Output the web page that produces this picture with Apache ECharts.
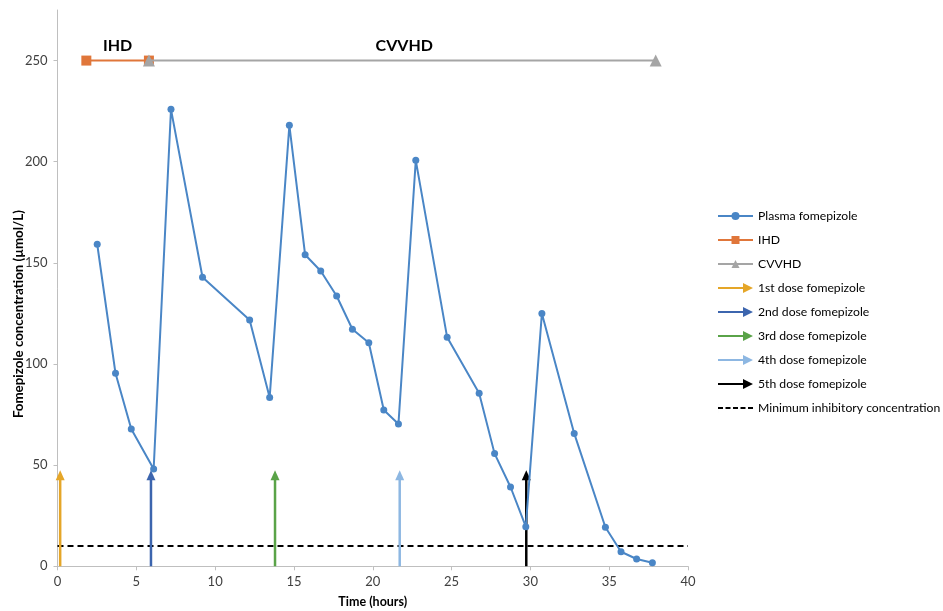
<!DOCTYPE html>
<html>
<head>
<meta charset="utf-8">
<script src="https://cdn.jsdelivr.net/npm/echarts@6/dist/echarts.min.js"></script>
<style>
html,body{margin:0;padding:0;background:#fff;}
#chart{width:943px;height:611px;}
</style>
</head>
<body>
<div id="chart"></div>
<script>
// ---- data ----
var plasmaTime = [2.52, 3.68, 4.68, 6.1, 7.2, 9.2, 12.19, 13.46, 14.71, 15.71, 16.7, 17.71, 18.71, 19.75, 20.7, 21.63, 22.73, 24.72, 26.75, 27.73, 28.74, 29.71, 30.73, 32.78, 34.76, 35.75, 36.74, 37.74];
var plasmaConc = [159.2, 95.4, 67.9, 48.1, 225.9, 142.9, 121.8, 83.5, 218.0, 154.0, 146.0, 133.6, 117.2, 110.5, 77.3, 70.3, 200.7, 113.2, 85.5, 55.7, 39.2, 19.6, 125.0, 65.7, 19.3, 7.2, 3.6, 1.8];
var ihdTime = [1.83, 5.8];
var cvvhdTime = [5.8, 37.95];
var therapyLevel = 250;
var doseNames = ['1st dose fomepizole', '2nd dose fomepizole', '3rd dose fomepizole', '4th dose fomepizole', '5th dose fomepizole'];
var doseTime = [0.17, 5.93, 13.8, 21.71, 29.74];
var doseArrowTop = 45;
var micLevel = 10;
var micRange = [0, 40];
var yTicks = [0, 50, 100, 150, 200, 250];
var xTicks = [0, 5, 10, 15, 20, 25, 30, 35, 40];

var doseColors = ['#E5A628', '#3C65AE', '#5AA348', '#8DB7E2', '#000000'];
var FONT = 'Lato, "Open Sans", sans-serif';
var arrowIcon = 'path://M0,4 L25,4 L25,0 L35,5 L25,10 L25,6 L0,6 Z';
var dashIcon = 'path://M0,4 h5 v2 h-5 Z M7.5,4 h5 v2 h-5 Z M15,4 h5 v2 h-5 Z M22.5,4 h5 v2 h-5 Z M30,4 h5 v2 h-5 Z M0,0 h0.01 v10 h-0.01 Z';

function zip(a, b) { return a.map(function (v, i) { return [v, b[i]]; }); }

var series = [];
series.push({
  name: 'Plasma fomepizole', type: 'line', data: zip(plasmaTime, plasmaConc),
  symbol: 'circle', symbolSize: 7, z: 5,
  itemStyle: { color: '#4A86C6' }, lineStyle: { color: '#4A86C6', width: 2 }
});
series.push({
  name: 'IHD', type: 'line', data: ihdTime.map(function (t) { return [t, therapyLevel]; }),
  symbol: 'rect', symbolSize: 10, z: 3,
  itemStyle: { color: '#E0763A' }, lineStyle: { color: '#E0763A', width: 2 },
  markPoint: {
    symbol: 'circle', symbolSize: 0,
    data: [{ coord: [(ihdTime[0] + ihdTime[1]) / 2, therapyLevel] }],
    label: { show: true, formatter: 'IHD', offset: [0, -15], color: '#000', fontWeight: 'bold', fontSize: 16, fontFamily: FONT }
  }
});
series.push({
  name: 'CVVHD', type: 'line', data: cvvhdTime.map(function (t) { return [t, therapyLevel]; }),
  symbol: 'triangle', symbolSize: 12, z: 4,
  itemStyle: { color: '#A5A5A5' }, lineStyle: { color: '#A5A5A5', width: 2 },
  markPoint: {
    symbol: 'circle', symbolSize: 0,
    data: [{ coord: [22.0, therapyLevel] }],
    label: { show: true, formatter: 'CVVHD', offset: [0, -15], color: '#000', fontWeight: 'bold', fontSize: 16, fontFamily: FONT }
  }
});
doseNames.forEach(function (n, i) {
  series.push({
    name: n, type: 'line', z: 2,
    data: [
      { value: [doseTime[i], 0], symbol: 'none' },
      { value: [doseTime[i], doseArrowTop], symbol: 'triangle', symbolSize: [9, 10] }
    ],
    itemStyle: { color: doseColors[i] }, lineStyle: { color: doseColors[i], width: 2.5 }
  });
});
series.push({
  name: 'Minimum inhibitory concentration', type: 'line', z: 1,
  data: micRange.map(function (t) { return [t, micLevel]; }),
  symbol: 'none',
  itemStyle: { color: '#000' }, lineStyle: { color: '#000', width: 2, type: [6, 4] }
});

var legendData = [
  { name: 'Plasma fomepizole' }, { name: 'IHD' }, { name: 'CVVHD' }
].concat(doseNames.map(function (n) { return { name: n, icon: arrowIcon }; }))
 .concat([{ name: 'Minimum inhibitory concentration', icon: dashIcon }]);

var chart = echarts.init(document.getElementById('chart'), null, { renderer: 'canvas' });
chart.setOption({
  animation: false,
  backgroundColor: '#fff',
  grid: { left: 57.5, right: 255, top: 10, bottom: 44.7, containLabel: false, outerBoundsMode: 'none' },
  legend: {
    orient: 'vertical', left: 712, top: 205, itemGap: 12, itemWidth: 35, itemHeight: 10,
    data: legendData,
    textStyle: { fontFamily: FONT, fontSize: 12.2, color: '#000' }
  },
  xAxis: {
    type: 'value', min: 0, max: 40, interval: 5,
    name: 'Time (hours)', nameLocation: 'middle', nameGap: 29, nameMoveOverlap: false,
    nameTextStyle: { fontFamily: FONT, fontWeight: 'bold', fontSize: 12.5, color: '#000' },
    axisLine: { lineStyle: { color: '#BFBFBF', width: 1 } },
    axisTick: { show: true, length: 4, lineStyle: { color: '#BFBFBF' } },
    axisLabel: { fontFamily: FONT, fontSize: 13, color: '#404040', margin: 9,
      formatter: function (v) { return xTicks.indexOf(v) >= 0 ? String(v) : ''; } },
    splitLine: { show: false }
  },
  yAxis: {
    type: 'value', min: 0, max: 275, interval: 50,
    name: 'Fomepizole concentration (µmol/L)', nameLocation: 'middle', nameGap: 32, nameMoveOverlap: false,
    nameTextStyle: { fontFamily: FONT, fontWeight: 'bold', fontSize: 13.3, color: '#000', padding: [0, 52, 0, 0] },
    axisLine: { show: true, lineStyle: { color: '#BFBFBF', width: 1 } },
    axisTick: { show: true, length: 4, lineStyle: { color: '#BFBFBF' } },
    axisLabel: { fontFamily: FONT, fontSize: 13, color: '#404040', margin: 10, showMaxLabel: false,
      formatter: function (v) { return yTicks.indexOf(v) >= 0 ? String(v) : ''; } },
    splitLine: { show: false }
  },
  series: series
});
</script>
</body>
</html>
